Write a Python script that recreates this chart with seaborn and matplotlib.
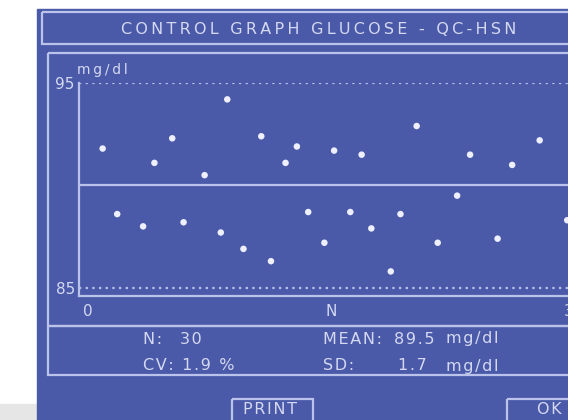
import matplotlib
matplotlib.use("Agg")
import matplotlib.pyplot as plt
from matplotlib.patches import Rectangle
import seaborn as sns

qc_run = [0.9, 1.8, 3.4, 4.1, 5.2, 5.9, 7.2, 8.2, 8.6, 9.6,
          10.7, 11.3, 12.2, 12.9, 13.6, 14.6, 15.2, 16.2, 16.9, 17.5,
          18.7, 19.3, 20.3, 21.6, 22.8, 23.6, 25.3, 26.2, 27.9, 29.6]
glucose = [91.8, 88.6, 88.0, 91.1, 92.3, 88.2, 90.5, 87.7, 94.2, 86.9,
           92.4, 86.3, 91.1, 91.9, 88.7, 87.2, 91.7, 88.7, 91.5, 87.9,
           85.8, 88.6, 92.9, 87.2, 89.5, 91.5, 87.4, 91.0, 92.2, 88.3]

target = 90
limits = [85, 95]
x_ticks = [0, 15, 30]
x_labels = ["0", "N", "30"]

title = "CONTROL GRAPH GLUCOSE - QC-HSN"
n_runs = 30
mean_val = 89.5
sd_val = 1.7
cv_val = 1.9

BLUE = "#4a5aa8"
LINE = "#bcc3ea"
TEXT = "#d4d8f0"
DOT = "#eef0ff"


def spaced(s, gap="\u200a"):
    # the device font has loose tracking
    return gap.join(s)


sns.set_theme(style="white")
plt.rcParams["font.family"] = ["DejaVu Sans"]

fig = plt.figure(figsize=(5.68, 4.2), dpi=100)

# screen background / frames, drawn in pixel coords
bg = fig.add_axes([0, 0, 1, 1])
bg.set_xlim(0, 568)
bg.set_ylim(420, 0)
bg.axis("off")
bg.add_patch(Rectangle((0, 0), 568, 420, color="white"))
bg.add_patch(Rectangle((0, 404), 37, 16, color="#e6e6e6"))
bg.add_patch(Rectangle((37, 9), 560, 430, color=BLUE))
box = dict(fill=False, ec=LINE, lw=1.6)
bg.add_patch(Rectangle((42, 12), 560, 32, **box))
bg.add_patch(Rectangle((48, 53), 560, 273, **box))
bg.add_patch(Rectangle((48, 326), 560, 49, **box))
bg.add_patch(Rectangle((232, 399), 81, 40, **box))
bg.add_patch(Rectangle((507, 399), 90, 40, **box))

tkw = dict(color=TEXT, va="center", ha="left")
bg.text(319, 30, spaced(title, "\u2009"), fontsize=11.5,
        color=TEXT, va="center", ha="center")
bg.text(77, 70, spaced("mg/dl", "\u2009"), fontsize=10, **tkw)

fs = 11.5
bg.text(143, 339, spaced("N:"), fontsize=fs, **tkw)
bg.text(180, 339, spaced(f"{n_runs}"), fontsize=fs, **tkw)
bg.text(143, 366, spaced(f"CV: {cv_val} %"), fontsize=fs, **tkw)
bg.text(323, 339, spaced("MEAN:"), fontsize=fs, **tkw)
bg.text(394, 339, spaced(f"{mean_val}"), fontsize=fs, **tkw)
bg.text(446, 339, spaced("mg/dl"), fontsize=fs, **tkw)
bg.text(323, 366, spaced("SD:"), fontsize=fs, **tkw)
bg.text(398, 366, spaced(f"{sd_val}"), fontsize=fs, **tkw)
bg.text(446, 366, spaced("mg/dl"), fontsize=fs, **tkw)
bg.text(270, 410, spaced("PRINT"), fontsize=fs, color=TEXT, va="center", ha="center")
bg.text(549, 410, spaced("OK"), fontsize=fs, color=TEXT, va="center", ha="center")

# control chart
ax = fig.add_axes([79 / 568, 1 - 296 / 420, (585 - 79) / 568, (296 - 83) / 420])
ax.set_facecolor("none")
sns.scatterplot(x=qc_run, y=glucose, ax=ax, color=DOT, s=22,
                edgecolor="none", linewidth=0, zorder=3)
for lim in limits:
    ax.axhline(lim, color=LINE, lw=1.6, ls=(0, (1, 2)))
ax.axhline(target, color=LINE, lw=1.6)

ax.set_xlim(-0.56, 30.7)
ax.set_ylim(84.6, 95)
ax.set_xticks(x_ticks, x_labels)
ax.set_yticks(limits, [str(v) for v in limits])
ax.tick_params(length=0, colors=TEXT, labelsize=11)
ax.tick_params(axis="x", pad=6)
ax.tick_params(axis="y", pad=3)
for s in ["top", "right"]:
    ax.spines[s].set_visible(False)
for s in ["left", "bottom"]:
    ax.spines[s].set_color(LINE)
    ax.spines[s].set_linewidth(1.6)
ax.set_xlabel("")
ax.set_ylabel("")

fig.savefig("out.png", dpi=100)
